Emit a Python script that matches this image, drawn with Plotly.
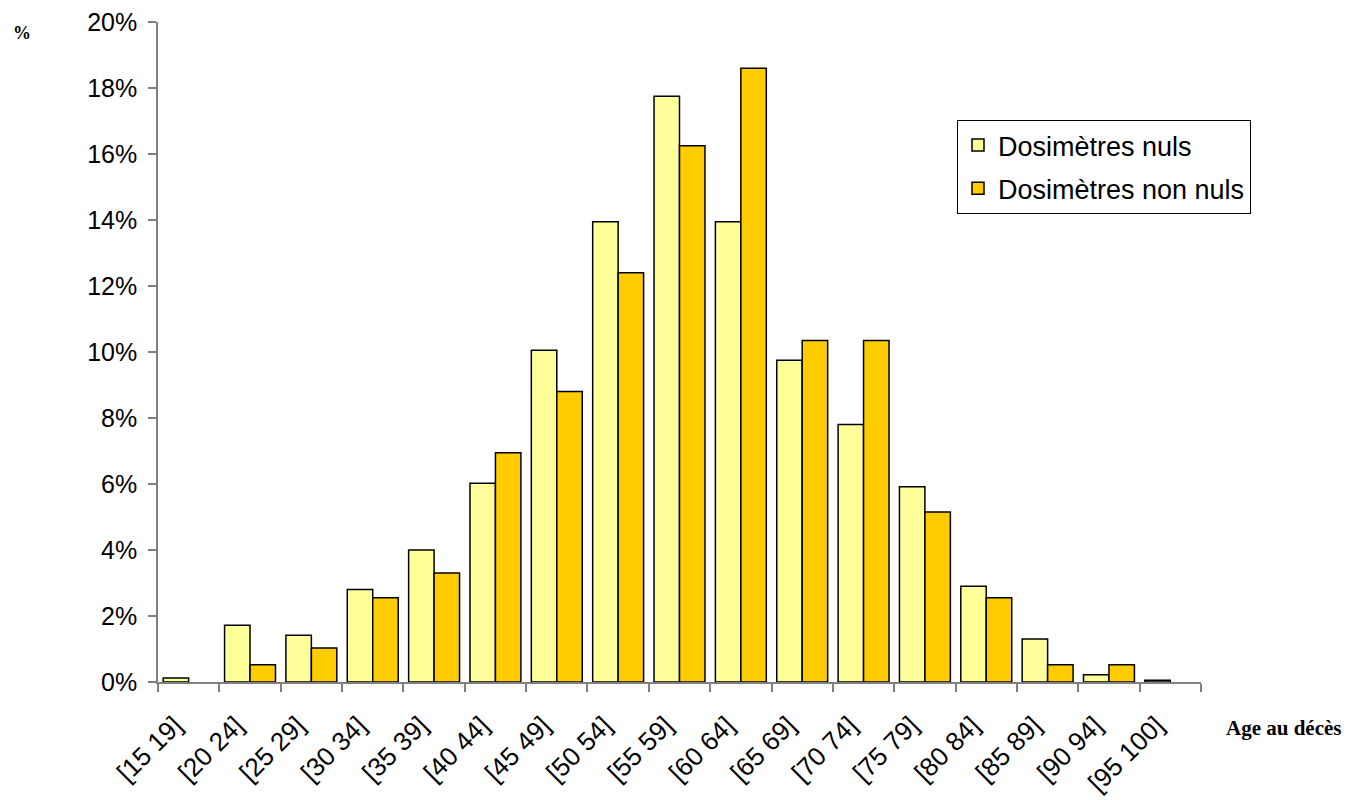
import plotly.graph_objects as go

categories = ["[15 19]", "[20 24]", "[25 29]", "[30 34]", "[35 39]", "[40 44]", "[45 49]",
              "[50 54]", "[55 59]", "[60 64]", "[65 69]", "[70 74]", "[75 79]", "[80 84]",
              "[85 89]", "[90 94]", "[95 100]"]
nuls = [0.12, 1.72, 1.42, 2.8, 4.0, 6.02, 10.05, 13.95, 17.75, 13.95, 9.75, 7.8, 5.92, 2.9, 1.3, 0.22, 0.05]
non_nuls = [None, 0.52, 1.03, 2.55, 3.3, 6.95, 8.8, 12.4, 16.25, 18.6, 10.35, 10.35, 5.15, 2.55, 0.52, 0.52, None]
y_ticks = list(range(0, 21, 2))
y_labels = [f"{v}%" for v in y_ticks]

L, R, T, B = 158, 159, 22, 118
plot_w = 1360 - L - R
plot_h = 800 - T - B

fig = go.Figure()
fig.add_trace(go.Bar(x=categories, y=nuls, name="Dosimètres nuls", legendgroup="a",
                     marker=dict(color="#FFFF99", line=dict(color="black", width=1.5))))
fig.add_trace(go.Bar(x=categories, y=non_nuls, name="Dosimètres non nuls", legendgroup="b",
                     marker=dict(color="#FFCC00", line=dict(color="black", width=1.5))))

fig.update_layout(
    width=1360, height=800,
    margin=dict(l=L, r=R, t=T, b=B, autoexpand=False),
    plot_bgcolor="white", paper_bgcolor="white",
    barmode="group", bargap=0.17, bargroupgap=0,
    font=dict(family="Arial, Liberation Sans", size=24, color="black"),
    legend=dict(x=(957 - L) / plot_w, y=(682 - 120) / plot_h, xanchor="left", yanchor="top",
                bordercolor="black", borderwidth=1, bgcolor="white",
                font=dict(size=27), tracegroupgap=5, traceorder="grouped"),
    xaxis=dict(type="category", showline=True, linecolor="#808080", linewidth=1.5,
               ticks="outside", tickson="boundaries", ticklen=8, tickcolor="#808080",
               tickwidth=1.5, tickangle=-45, showgrid=False, zeroline=False,
               automargin=False, ticklabelstandoff=16, ticklabelshift=-14,
               tickfont=dict(size=26)),
    yaxis=dict(range=[0, 20], tickvals=y_ticks, ticktext=y_labels, showline=True,
               linecolor="#808080", linewidth=1.5, ticks="outside", ticklen=8,
               tickcolor="#808080", tickwidth=1.5, showgrid=False, zeroline=False,
               automargin=False, ticklabelstandoff=6,
               tickfont=dict(size=25)),
    annotations=[
        dict(text="<b>%</b>", xref="paper", yref="paper",
             x=(22 - L) / plot_w, y=(682 - 33) / plot_h, xanchor="center", yanchor="middle",
             showarrow=False, font=dict(family="Liberation Serif, Times New Roman", size=18)),
        dict(text="<b>Age au décès</b>", xref="paper", yref="paper",
             x=(1283 - L) / plot_w, y=(682 - 728) / plot_h, xanchor="center", yanchor="middle",
             showarrow=False, font=dict(family="Liberation Serif, Times New Roman", size=21)),
    ],
)

fig.write_html("out.html")
